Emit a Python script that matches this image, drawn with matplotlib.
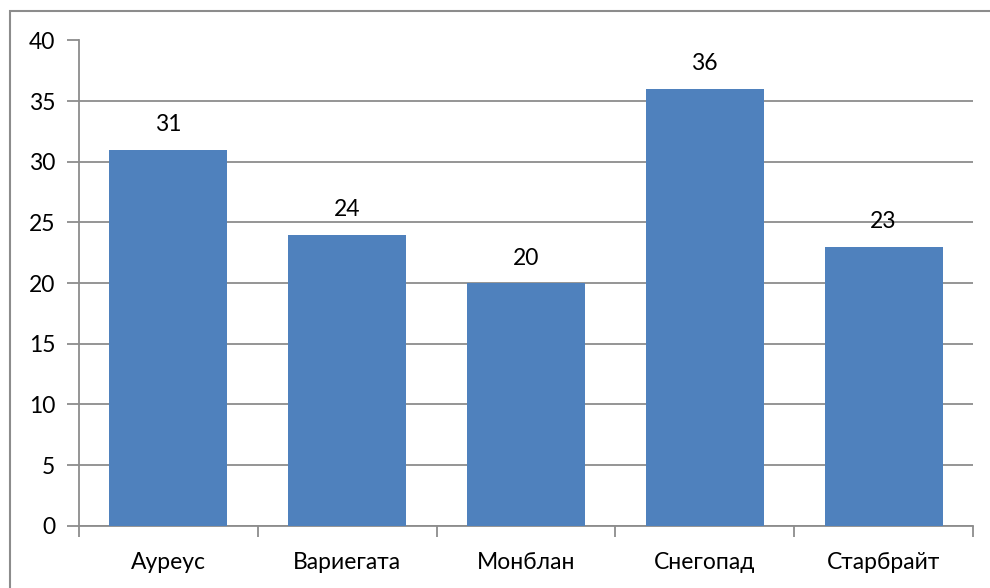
import matplotlib
matplotlib.use("Agg")
import matplotlib.pyplot as plt
from matplotlib.patches import Rectangle

categories = ["Ауреус", "Вариегата", "Монблан", "Снегопад", "Старбрайт"]
values = [31, 24, 20, 36, 23]
yticks = [0, 5, 10, 15, 20, 25, 30, 35, 40]

W, H = 990, 588
fig = plt.figure(figsize=(W / 100, H / 100), dpi=100)
plt.rcParams["font.family"] = ["Lato", "DejaVu Sans"]
fs = 16.5

# outer frame (only left and top visible in the picture)
fig.patches.append(Rectangle((10 / W, -0.1), 1.2, (H - 11) / H + 0.1,
                             transform=fig.transFigure, fill=False,
                             edgecolor="#8c8c8c", linewidth=1.5))

left, right, top, bottom = 79, 973, 40.5, 525.7
ax = fig.add_axes([left / W, (H - bottom) / H, (right - left) / W, (bottom - top) / H])

x = range(len(categories))
ax.bar(x, values, width=0.66, color="#4F81BD", zorder=3)
for i, v in enumerate(values):
    ax.text(i, v + 1.2, str(v), ha="center", va="bottom", fontsize=fs, color="black", zorder=4)

ax.set_xlim(-0.5, len(categories) - 0.5)
ax.set_ylim(0, 40)
ax.set_yticks(yticks)
ax.set_yticklabels([str(t) for t in yticks], fontsize=fs)
ax.set_xticks(list(x))
ax.set_xticklabels(categories, fontsize=fs)
ax.tick_params(axis="x", length=0, pad=19)
ax.tick_params(axis="y", length=9, width=1.3, color="#8c8c8c", pad=8)

# category separator ticks below the x axis
ax.set_xticks([i - 0.5 for i in range(len(categories) + 1)], minor=True)
ax.tick_params(axis="x", which="minor", length=8, width=1.3, color="#8c8c8c", direction="out")

ax.grid(axis="y", color="#8c8c8c", linewidth=1.3, zorder=0)
for s in ["top", "right"]:
    ax.spines[s].set_visible(False)
for s in ["left", "bottom"]:
    ax.spines[s].set_color("#8c8c8c")
    ax.spines[s].set_linewidth(1.3)

fig.savefig("out.png", dpi=100)
